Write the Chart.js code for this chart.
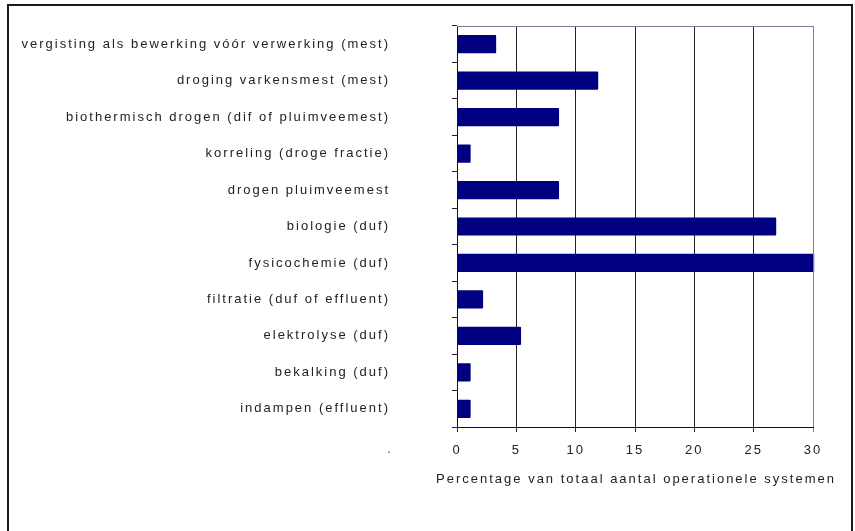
<!DOCTYPE html>
<html lang="nl">
  <head>
    <meta charset="UTF-8" />
    <title>Systemen</title>
    <style>
      html, body { margin: 0; padding: 0; background: #fff; }
      .wrapper { position: relative; width: 855px; height: 531px; overflow: hidden; }
      .frame {
        position: absolute; left: 7px; top: 4px; width: 842px; height: 600px;
        border: 2px solid #1a1a1a;
      }
      #chart { position: absolute; left: 0; top: 0; }
    </style>
  </head>
  <body>
    <div class="wrapper">
      <div class="frame"></div>
      <canvas id="chart" width="855" height="531"></canvas>
    </div>
    <script src="https://cdn.jsdelivr.net/npm/chart.js"></script>
    <script>
      const categories = [
        "vergisting als bewerking vóór verwerking (mest)",
        "droging varkensmest (mest)",
        "biothermisch drogen (dif of pluimveemest)",
        "korreling (droge fractie)",
        "drogen pluimveemest",
        "biologie (duf)",
        "fysicochemie (duf)",
        "filtratie (duf of effluent)",
        "elektrolyse (duf)",
        "bekalking (duf)",
        "indampen (effluent)",
      ];
      const percentages = [3.3, 11.9, 8.6, 1.15, 8.6, 26.9, 30.1, 2.2, 5.4, 1.15, 1.15];
      const xTicks = [0, 5, 10, 15, 20, 25, 30];
      const axisTitle = "Percentage van totaal aantal operationele systemen";

      const spacing = "2px";
      const fontFamily = "'Liberation Sans', Arial, sans-serif";

      // label text in the original is spread out, keep that.
      // the axis title is drawn here too: chart.js squeezes it to the plot width
      const letterSpacing = {
        id: "letterSpacing",
        beforeUpdate(chart) { chart.ctx.letterSpacing = spacing; },
        beforeDraw(chart) { chart.ctx.letterSpacing = spacing; },
        afterDraw(chart) {
          const { ctx, chartArea } = chart;
          ctx.save();
          // top + right edge of the plot frame
          ctx.strokeStyle = "#7c7c9c";
          ctx.lineWidth = 1;
          ctx.beginPath();
          ctx.moveTo(chartArea.left, chartArea.top + 0.5);
          ctx.lineTo(chartArea.right + 0.5, chartArea.top + 0.5);
          ctx.lineTo(chartArea.right + 0.5, chartArea.bottom);
          ctx.stroke();

          ctx.font = "13px " + fontFamily;
          ctx.textAlign = "center";
          ctx.textBaseline = "middle";
          ctx.fillStyle = "#222";
          ctx.fillText(axisTitle, (chartArea.left + chartArea.right) / 2 + 1, chartArea.bottom + 52);
          // stray dot left of the tick row
          ctx.fillStyle = "#555";
          ctx.fillText(".", chartArea.left - 67, chartArea.bottom + 22);
          ctx.restore();
        },
      };

      new Chart(document.getElementById("chart"), {
        type: "bar",
        data: {
          labels: categories,
          datasets: [
            {
              data: percentages,
              backgroundColor: "#000080",
              borderWidth: 0,
              borderRadius: 1,
              barPercentage: 0.5,
              categoryPercentage: 1,
              clip: 4,
            },
          ],
        },
        plugins: [letterSpacing],
        options: {
          indexAxis: "y",
          responsive: false,
          animation: false,
          layout: { padding: { top: 26, right: 42, left: 0, bottom: 0 } },
          plugins: {
            legend: { display: false },
            tooltip: { enabled: false },
          },
          scales: {
            y: {
              afterFit: (scale) => {
                scale.width = 457;
                scale.paddingTop = 0;
                scale.paddingBottom = 0;
              },
              grid: {
                drawOnChartArea: false,
                tickLength: 5,
                color: "#222",
              },
              border: { color: "#111", width: 1 },
              ticks: {
                padding: 62,
                color: "#222",
                font: { family: fontFamily, size: 13 },
              },
            },
            x: {
              min: 0,
              max: 30,
              afterFit: (scale) => { scale.height = 104; },
              afterBuildTicks: (scale) => {
                scale.ticks = xTicks.map((v) => ({ value: v }));
              },
              grid: {
                tickLength: 5,
                color: (ctx) => (ctx.tick && ctx.tick.value === 30 ? "#7c7c9c" : "#222"),
              },
              border: { color: "#111", width: 1 },
              ticks: {
                padding: 11,
                color: "#222",
                maxRotation: 0,
                font: { family: fontFamily, size: 13 },
              },
            },
          },
        },
      });
    </script>
  </body>
</html>
